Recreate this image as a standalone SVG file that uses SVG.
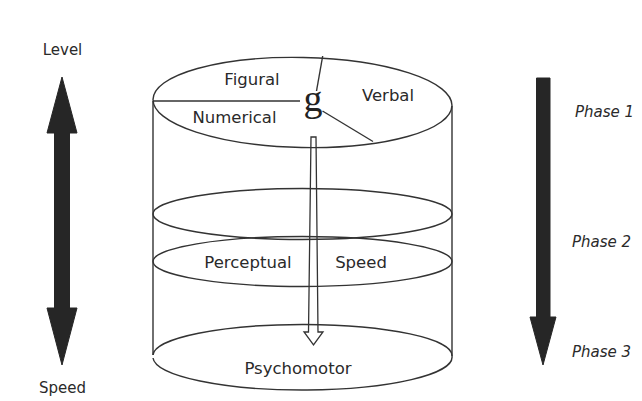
<svg xmlns="http://www.w3.org/2000/svg" width="642" height="401" viewBox="0 0 642 401">
<style>
.ln{fill:none;stroke:#333;stroke-width:1.4}
.t{font-family:"DejaVu Sans",sans-serif;font-size:16.5px;fill:#2a2a2a;text-anchor:middle}
.s{font-family:"DejaVu Sans",sans-serif;font-size:15px;fill:#2a2a2a;text-anchor:middle}
.p{font-family:"DejaVu Sans",sans-serif;font-size:15px;font-style:italic;fill:#2a2a2a}
.big{fill:#262626;stroke:#262626;stroke-width:1}
</style>
<rect width="642" height="401" fill="#fff"/>
<g id="connectors">
<path d="M311,137 L316,137 L318,332 L323,332 L313.5,345 L304,332 L308.5,332 Z" fill="#fff" stroke="#333" stroke-width="1.3" stroke-linejoin="miter"/>
</g>
<g id="cylinder">
<line class="ln" x1="153" y1="101" x2="153" y2="355"/>
<line class="ln" x1="452" y1="106" x2="452" y2="356"/>
<path class="ln" d="M153,358 A149.5,33 0 0,0 452,356"/>
<path class="ln" d="M153,355 A149.5,31 0 0,1 452,356"/>
</g>
<g id="top">
<ellipse class="ln" cx="302.5" cy="102.5" rx="149.5" ry="45" transform="rotate(1.2 302.5 102.5)"/>
<line class="ln" x1="153" y1="101" x2="300" y2="101"/>
<line class="ln" x1="322.7" y1="56" x2="316.5" y2="91"/>
<line class="ln" x1="322.5" y1="111" x2="373" y2="141.5"/>
<text class="t" x="252" y="85">Figural</text>
<text class="t" x="234.5" y="123">Numerical</text>
<text class="t" x="388" y="101">Verbal</text>
<text x="313" y="111" font-family="'Liberation Serif',serif" font-size="38" fill="#222" text-anchor="middle">g</text>
</g>
<g id="ring1">
<ellipse class="ln" cx="302.5" cy="214" rx="149.5" ry="25.5"/>
</g>
<g id="ring2">
<ellipse class="ln" cx="302.5" cy="261.5" rx="149.5" ry="25"/>
<text class="t" x="248" y="268">Perceptual</text>
<text class="t" x="361" y="268">Speed</text>
</g>
<g id="bottom">
<text class="t" x="298" y="374">Psychomotor</text>
</g>
<g id="level-speed">
<path class="big" d="M62,77 L77,133 L69.5,133 L69.5,308 L77,308 L62,365 L47,308 L54.5,308 L54.5,133 L47,133 Z"/>
<text class="s" x="62.5" y="55">Level</text>
<text class="s" x="62.5" y="393">Speed</text>
</g>
<g id="phases">
<path class="big" d="M536.5,78 L550,78 L550,317 L556,317 L543,365 L530,317 L536.5,317 Z"/>
<text class="p" x="575" y="117">Phase 1</text>
<text class="p" x="572" y="247">Phase 2</text>
<text class="p" x="572" y="357">Phase 3</text>
</g>
</svg>
